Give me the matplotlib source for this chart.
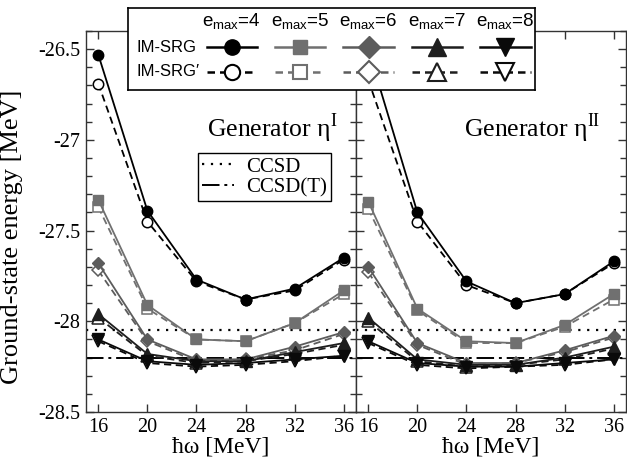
import numpy as np
import matplotlib
matplotlib.use("Agg")
import matplotlib.pyplot as plt
from matplotlib.ticker import MultipleLocator, FuncFormatter

plt.rcParams['font.family'] = 'serif'
plt.rcParams['font.serif'] = ['Liberation Serif', 'DejaVu Serif']
plt.rcParams['mathtext.fontset'] = 'custom'
plt.rcParams['mathtext.rm'] = 'Liberation Serif'
plt.rcParams['mathtext.sf'] = 'Liberation Sans'
plt.rcParams['axes.unicode_minus'] = False

hw = [16, 20, 24, 28, 32, 36]
emax_labels = ['4', '5', '6', '7', '8']

# generator eta^I
left_srg = [
    [-26.53, -27.39, -27.77, -27.88, -27.82, -27.65],
    [-27.33, -27.91, -28.10, -28.11, -28.01, -27.83],
    [-27.68, -28.10, -28.21, -28.21, -28.14, -28.06],
    [-27.96, -28.18, -28.22, -28.22, -28.17, -28.12],
    [-28.10, -28.22, -28.24, -28.23, -28.21, -28.19],
]
left_srgp = [
    [-26.69, -27.45, -27.78, -27.88, -27.83, -27.66],
    [-27.37, -27.93, -28.10, -28.11, -28.01, -27.85],
    [-27.72, -28.11, -28.22, -28.21, -28.16, -28.07],
    [-27.98, -28.19, -28.23, -28.22, -28.18, -28.13],
    [-28.11, -28.23, -28.25, -28.24, -28.22, -28.19],
]

# generator eta^II
right_srg = [
    [-26.50, -27.40, -27.78, -27.90, -27.85, -27.67],
    [-27.34, -27.93, -28.11, -28.12, -28.02, -27.85],
    [-27.70, -28.12, -28.23, -28.23, -28.16, -28.08],
    [-27.98, -28.21, -28.24, -28.24, -28.20, -28.14],
    [-28.11, -28.23, -28.25, -28.25, -28.23, -28.21],
]
right_srgp = [
    [-26.67, -27.45, -27.80, -27.90, -27.85, -27.68],
    [-27.38, -27.94, -28.12, -28.12, -28.03, -27.88],
    [-27.73, -28.13, -28.24, -28.23, -28.17, -28.09],
    [-28.00, -28.22, -28.25, -28.24, -28.21, -28.15],
    [-28.12, -28.24, -28.26, -28.25, -28.24, -28.21],
]

ccsd = -28.05
ccsd_t = -28.20

colors = ['#000000', '#707070', '#5c5c5c', '#1e1e1e', '#0a0a0a']
markers = ['o', 's', 'D', '^', 'v']
msizes = [7.5, 7, 6.5, 8, 8]

fig = plt.figure(figsize=(6.27, 4.61), dpi=100)
ax1 = fig.add_axes([86 / 627, 49 / 461, 270 / 627, 381 / 461])
ax2 = fig.add_axes([356 / 627, 49 / 461, 270 / 627, 381 / 461])


def draw_panel(ax, srg, srgp, gen):
    for i in range(5):
        ax.plot(hw, srgp[i], ls=(0, (4, 2.5)), lw=1.3, color=colors[i],
                marker=markers[i], ms=msizes[i], mfc='white', mec=colors[i],
                mew=1.1, zorder=3)
        ax.plot(hw, srg[i], ls='-', lw=1.3, color=colors[i],
                marker=markers[i], ms=msizes[i], mfc=colors[i], mec=colors[i],
                zorder=4)
    ax.axhline(ccsd, color='black', lw=1.6, ls=(0, (1, 3)), label='CCSD', zorder=2)
    ax.axhline(ccsd_t, color='black', lw=1.4, ls=(0, (9, 2.5, 1.5, 2.5)),
               label='CCSD(T)', zorder=2)
    ax.set_xlim(15, 37)
    ax.set_ylim(-28.5, -26.4)
    ax.xaxis.set_major_locator(MultipleLocator(4))
    ax.yaxis.set_major_locator(MultipleLocator(0.5))
    ax.yaxis.set_minor_locator(MultipleLocator(0.1))
    ax.yaxis.set_major_formatter(FuncFormatter(lambda v, p: f'{v:g}'))
    ax.tick_params(which='both', direction='in', top=True, right=True,
                   labelsize=14.5, pad=4, color='#333333')
    ax.tick_params(which='major', length=6, width=1)
    ax.tick_params(which='minor', length=4, width=1)
    for s in ax.spines.values():
        s.set_color('#333333')
        s.set_linewidth(1)
    ax.set_xlabel('ħω [MeV]', fontsize=17, labelpad=0)
    ax.text(*gen[1], 'Generator η$^{\\mathrm{' + gen[0] + '}}$',
            transform=ax.transAxes, ha='right', va='center', fontsize=18.5)


draw_panel(ax1, left_srg, left_srgp, ('I', (0.93, 0.745)))
draw_panel(ax2, right_srg, right_srgp, ('II', (0.905, 0.745)))
ax2.tick_params(labelleft=False)
ax1.set_ylabel('Ground-state energy [MeV]', fontsize=19)
ax1.yaxis.set_label_coords(-0.235, 0.46)

leg = ax1.legend(loc='upper left', bbox_to_anchor=(0.416, 0.68), fontsize=15,
                 frameon=True, fancybox=False, edgecolor='black', framealpha=1,
                 handlelength=1.5, handletextpad=0.6, borderpad=0.2,
                 labelspacing=0.05, borderaxespad=0)
leg.get_frame().set_linewidth(1)

# emax legend box on top of both panels
lax = fig.add_axes([128 / 627, 1 - 90 / 461, 407 / 627, 82 / 461], zorder=10)
lax.set_xlim(0, 1)
lax.set_ylim(0, 1)
lax.set_xticks([])
lax.set_yticks([])
lax.set_facecolor('white')
for s in lax.spines.values():
    s.set_linewidth(1.2)
    s.set_color('black')

sans = ['Liberation Sans', 'DejaVu Sans']
lax.text(0.02, 0.524, 'IM-SRG', family=sans, fontsize=12, va='center', ha='left')
lax.text(0.02, 0.22, 'IM-SRG′', family=sans, fontsize=12, va='center', ha='left')
leg_ms = [11, 10, 11, 13, 13]
for i, lab in enumerate(emax_labels):
    cx = 0.255 + i * 0.168
    lax.text(cx, 0.83, 'e$_{\\mathsf{max}}$=' + lab, family=sans, fontsize=13.5,
             ha='center', va='center')
    lax.plot([cx - 0.062, cx + 0.062], [0.524, 0.524], ls='-', lw=1.8,
             color=colors[i])
    lax.plot([cx], [0.524], ls='none', marker=markers[i], ms=leg_ms[i],
             color=colors[i])
    lax.plot([cx - 0.062, cx + 0.062], [0.22, 0.22], ls=(0, (3, 2)), lw=1.8,
             color=colors[i])
    lax.plot([cx], [0.22], ls='none', marker=markers[i], ms=leg_ms[i],
             mfc='white', mec=colors[i], mew=1.5)

plt.savefig('out.png', dpi=100)
